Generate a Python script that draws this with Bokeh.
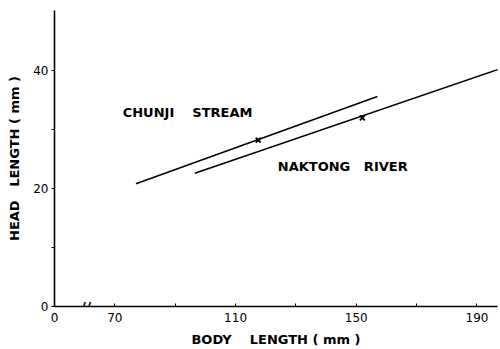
from bokeh.plotting import figure
from bokeh.models import FixedTicker, Label, Range1d
from bokeh.core.properties import value
from bokeh.embed import file_html
from bokeh.resources import INLINE

# Regression lines (body length mm -> head length mm)
chunji_x = [77.0, 157.0]
chunji_y = [20.8, 35.6]
naktong_x = [96.5, 197.0]
naktong_y = [22.6, 40.2]
# Mean points marked with x
mean_x = [117.5, 152.0]
mean_y = [28.2, 32.0]

x_ticks = [50, 70, 110, 150, 190]
x_tick_labels = {50: "0", 70: "70", 110: "110", 150: "150", 190: "190"}
x_minor = [90, 130, 170]
y_ticks = [0, 20, 40]
y_minor = [10, 30]

FONT = "DejaVu Sans"
SP = "\u00a0"

p = figure(width=498, height=349, output_backend="svg", toolbar_location=None,
           x_range=Range1d(50, 196.8), y_range=Range1d(0, 50.2),
           min_border_left=54, min_border_right=1, min_border_top=10, min_border_bottom=43)
p.outline_line_color = None
p.grid.visible = False
p.background_fill_color = "white"

for ax in (p.xaxis[0], p.yaxis[0]):
    ax.axis_line_width = 1.6
    ax.axis_line_color = "black"
    ax.major_tick_line_color = "black"
    ax.minor_tick_line_color = "black"
    ax.major_label_text_font = FONT
    ax.major_label_text_font_size = "12px"
    ax.major_label_text_color = "black"
    ax.axis_label_text_font = FONT
    ax.axis_label_text_font_style = "bold"
    ax.axis_label_text_font_size = "13px"
    ax.axis_label_text_color = "black"

xa = p.xaxis[0]
xa.ticker = FixedTicker(ticks=x_ticks, minor_ticks=x_minor)
xa.major_label_overrides = x_tick_labels
xa.major_tick_in = 3
xa.major_tick_out = 0
xa.minor_tick_in = 3
xa.minor_tick_out = 0
xa.major_label_standoff = 6
xa.axis_label = "BODY" + SP * 4 + "LENGTH" + SP + "(" + SP + "mm" + SP + ")"
xa.axis_label_standoff = 7

ya = p.yaxis[0]
ya.ticker = FixedTicker(ticks=y_ticks, minor_ticks=y_minor)
ya.major_tick_in = 0
ya.major_tick_out = 3
ya.minor_tick_in = 0
ya.minor_tick_out = 3
ya.major_label_standoff = 3
ya.axis_label = "HEAD" + SP * 3 + "LENGTH" + SP + "(" + SP + "mm" + SP + ")"
ya.axis_label_standoff = 8

p.line(chunji_x, chunji_y, line_color="black", line_width=1.6)
p.line(naktong_x, naktong_y, line_color="black", line_width=1.6)
p.scatter(mean_x, mean_y, marker="x", size=7, line_color="black", line_width=1.8)

p.text(x=[72.6], y=[32.9], text=["CHUNJI" + SP * 4 + "STREAM"], text_font=value(FONT),
       text_font_style="bold", text_font_size="13px", text_baseline="middle",
       text_align="left", text_color="black")
p.text(x=[124.0], y=[23.7], text=["NAKTONG" + SP * 3 + "RIVER"], text_font=value(FONT),
       text_font_style="bold", text_font_size="13px", text_baseline="middle",
       text_align="left", text_color="black")

# axis break mark
p.add_layout(Label(x=60.4, y=0, text="//", text_font=FONT, text_font_style="bold",
                   text_font_size="14px", text_align="center", text_baseline="middle",
                   text_color="black"))

open("out.html", "w").write(file_html(p, INLINE))
